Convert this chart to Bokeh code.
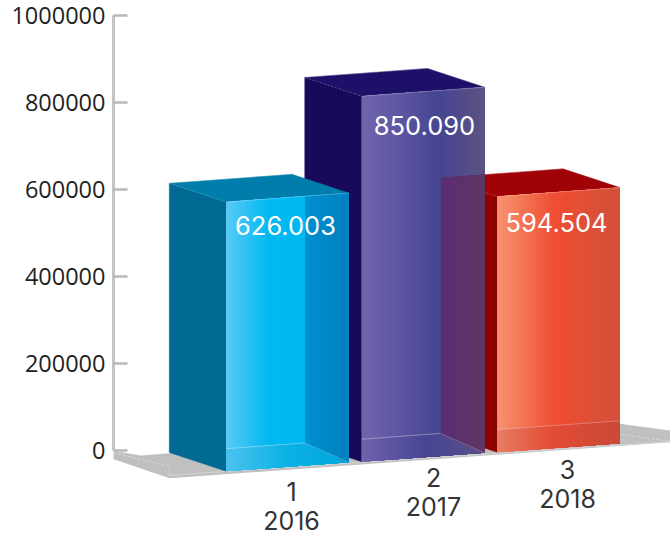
from bokeh.plotting import figure
from bokeh.embed import file_html
from bokeh.resources import INLINE
from bokeh.core.properties import value
from bokeh.models import Range1d, FixedTicker, NumeralTickFormatter, PolyAnnotation

# ---- data
categories = ["1", "2", "3"]
years = ["2016", "2017", "2018"]
values = [626003, 850090, 594504]
y_ticks = [0, 200000, 400000, 600000, 800000, 1000000]

# ---- label placement (axis units)
cat_label_x = [1.482, 2.53, 3.519]
cat_label_y = [-94253, -62069, -43678]
year_label_y = [-160920, -128736, -110345]
value_label_x = [1.4376, 2.463, 3.4376]
value_label_drop = [65000, 78000, 69000]

# ---- oblique projection (x: category units, y: value units)
BAR_W = 0.905
DEPTH_X = 0.42
INNER_X = 0.322
BASE_Y = -47586
STEP_Y = 21839
WIDTH_Y = 20690
DEPTH_Y = 42989
INNER_Y = 43678
LIP_Y = 51700
HEIGHT = 0.9885
U_H = 1 - INNER_X / BAR_W

def P(i, u=0.0, w=0.0, v=0.0):
    return (i + 1 + BAR_W * u - DEPTH_X * w,
            BASE_Y + STEP_Y * i + WIDTH_Y * u + DEPTH_Y * w + v * HEIGHT)

def inner(i):
    x, y = P(i, 1)
    return x - INNER_X, y + INNER_Y

def lerp_color(stops, t):
    def rgb(c):
        return [int(c[k:k + 2], 16) for k in (1, 3, 5)]
    if t <= stops[0][0]:
        return stops[0][1]
    for (a, ca), (b, cb) in zip(stops, stops[1:]):
        if t <= b:
            f = (t - a) / (b - a)
            m = [round(p + (q - p) * f) for p, q in zip(rgb(ca), rgb(cb))]
            return "#%02x%02x%02x" % tuple(m)
    return stops[-1][1]

LEFT = ["#006a94", "#180a5b", "#8f0000"]
TOP = ["#007dab", "#1d1068", "#a10208"]
FRONT = [
    [(0, "#55c9f5"), (.35, "#00b9f2"), (1, "#00b6ef")],
    [(0, "#7064ac"), (.35, "#5a54a0"), (.62, "#464592"), (1, "#5c5285")],
    [(0, "#f8926e"), (.47, "#ef4e33"), (1, "#d2503a")],
]
FLOOR = [
    [(0, "#49c3ee"), (.5, "#0cb1e6"), (1, "#00a5dd")],
    [(0, "#6f62aa"), (.55, "#474594"), (1, "#5a5286")],
    [(0, "#e87c62"), (.45, "#e24b36"), (1, "#cb4a36")],
]
SIDE = [(0, "#008fcf"), (1, "#0080bf")]
OVERLAP = [(0, "#5a2d74"), (1, "#5f3763")]
EDGE = "#ffffff"

p = figure(width=670, height=538, output_backend="svg",
           toolbar_location=None, x_axis_location=None,
           x_range=Range1d(0.1683, 4.279), y_range=Range1d(-202299, 1000000),
           min_border_left=113, min_border_top=15, min_border_right=0, min_border_bottom=0)
p.grid.visible = False
p.outline_line_color = None
ax = p.yaxis[0]
ax.ticker = FixedTicker(ticks=y_ticks)
ax.formatter = NumeralTickFormatter(format="0")
ax.bounds = (0, 1000000)
ax.axis_line_color = "#c4c4c4"
ax.axis_line_width = 3
ax.major_tick_in = 14
ax.major_tick_out = 0
ax.minor_tick_line_color = None
ax.major_tick_line_color = "#b8b8b8"
ax.major_tick_line_width = 2.5
ax.major_label_standoff = 8
ax.major_label_text_font = "Open Sans"
ax.major_label_text_font_size = "23.5px"
ax.major_label_text_color = "#231f20"

floor_pts = [(0.1683 - 0.015, 0), (0.37, -11500), (0.5825, -6400), (3.3, 87000),
             (4.279, 46000), (4.279, 19000), (0.5825, -64000), (0.1535, -18400)]
p.add_layout(PolyAnnotation(xs=[q[0] for q in floor_pts], ys=[q[1] for q in floor_pts],
                            fill_color="#c0c0c0", fill_alpha=1, line_color=None,
                            level="underlay"))
p.line([0.165, 0.5825, 0.5825], [-5000, -37000, -64000], color="#d9d9d9", line_width=1, line_dash="3 2")
p.line([0.5825, 4.279], [-57000, 20500], color="#d4d4d4", line_width=1)
p.line([3.3, 4.279], [66000, 20500], color="#d9d9d9", line_width=1, line_dash="3 2")

N = 60

def band(i, u0, u1, top, bottom, stops, t0=None, t1=None):
    """Gradient across a face; every slice runs to the right edge so no seams show."""
    xs, ys, cols = [], [], []
    t0 = u0 if t0 is None else t0
    t1 = u1 if t1 is None else t1
    n = max(2, int(N * (u1 - u0)))
    for k in range(n):
        a = u0 + (u1 - u0) * k / n
        f = k / (n - 1)
        pts = [top(a), top(u1), bottom(u1), bottom(a)]
        xs.append([q[0] for q in pts])
        ys.append([q[1] for q in pts])
        cols.append(lerp_color(stops, t0 + (t1 - t0) * f))
    p.patches(xs, ys, fill_color=cols, line_color=None)

def seg(a, b, color=EDGE, alpha=0.35, width=1, dash="solid"):
    p.line([a[0], b[0]], [a[1], b[1]], color=color, alpha=alpha, line_width=width, line_dash=dash)

for i in (2, 1, 0):
    v = values[i]
    A, B, C, D = P(i, 0, 1, v), P(i, 0, 0, v), P(i, 1, 0, v), P(i, 1, 1, v)
    E, F, G = P(i, 0, 0), P(i, 0, 1), P(i, 1, 0)
    H = inner(i)
    poly = [A, B, E, F]
    p.patch([q[0] for q in poly], [q[1] for q in poly], fill_color=LEFT[i], line_color=LEFT[i], line_width=0.5)
    poly = [A, B, C, D]
    p.patch([q[0] for q in poly], [q[1] for q in poly], fill_color=TOP[i], line_color=TOP[i], line_width=0.5)

    top = lambda u, i=i, v=v: P(i, u, 0, v)
    base = lambda u, i=i: P(i, u, 0)
    lip = lambda u, i=i: (P(i, u)[0], P(i, u)[1] + LIP_Y)
    def diag(u, i=i, H=H, G=G):
        f = (u - U_H) / (1 - U_H)
        return H[0] + (G[0] - H[0]) * f, H[1] + (G[1] - H[1]) * f

    # front wall, then the floor seen through it
    band(i, 0, 1, top, base, FRONT[i])
    if i == 2:
        band(i, 0, 1, lip, base, FLOOR[i])
        seg(lip(0), lip(1), alpha=0.3)
    else:
        band(i, 0, U_H, lip, base, FLOOR[i])
        band(i, U_H, 1, diag, base, FLOOR[i])
        seg(lip(0), lip(U_H), alpha=0.35)
    if i == 0:
        band(i, U_H, 1, top, diag, SIDE, 0, 1)
        seg(diag(U_H), diag(1), alpha=0.25)
    if i == 1:
        # the next bar's wall showing through this bar's side
        A3, D3 = P(2, 0, 1, values[2]), P(2, 1, 1, values[2])
        def over(u, A3=A3, D3=D3):
            x = diag(u)[0]
            return x, A3[1] + (D3[1] - A3[1]) * (x - A3[0]) / (D3[0] - A3[0])
        band(i, U_H, 1, over, diag, OVERLAP, 0, 1)
        seg(diag(U_H), diag(1), alpha=0.25)
    seg(B, C, alpha=0.25)
    seg(A, B, alpha=0.18, dash="2 2")
    seg(A, D, alpha=0.12)

# ---- texts
value_labels = [f"{v:,}".replace(",", ".") for v in values]
value_y = [P(i, 0.5, 0, values[i])[1] - value_label_drop[i] for i in range(3)]
p.text(value_label_x, value_y, text=value_labels, text_font=value("Inter"), text_font_size="25.5px",
       text_color="#ffffff", text_align="center", text_baseline="middle")
p.text(cat_label_x, cat_label_y, text=categories, text_font=value("Inter"), text_font_size="25px",
       text_color="#333333", text_align="center", text_baseline="middle")
p.text(cat_label_x, year_label_y, text=years, text_font=value("Inter"), text_font_size="25px",
       text_color="#333333", text_align="center", text_baseline="middle")

open("out.html", "w").write(file_html(p, INLINE))
